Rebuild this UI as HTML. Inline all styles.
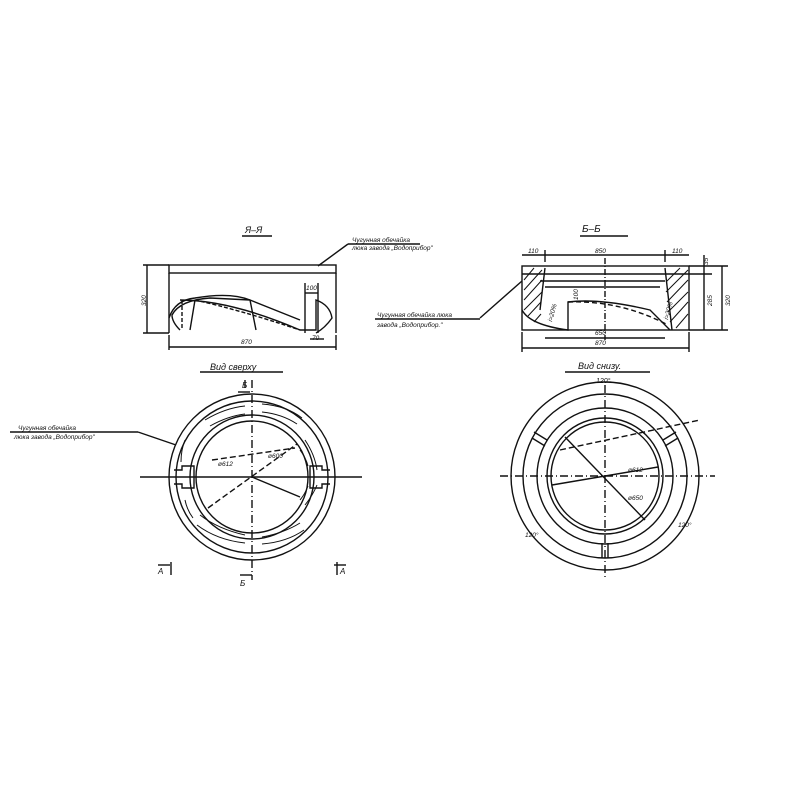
<!DOCTYPE html>
<html><head><meta charset="utf-8"><style>
html,body{margin:0;padding:0;background:#fff}
svg{display:block}
text{font-family:"Liberation Sans",sans-serif;font-style:italic;fill:#111}
</style></head><body>
<svg width="800" height="800" viewBox="0 0 800 800" xmlns="http://www.w3.org/2000/svg">
<g stroke="#111" fill="none" stroke-width="1.4">
<!-- A-A section -->
<line x1="242" y1="236" x2="272" y2="236"/>
<rect x="169" y="265" width="167" height="8"/>
<line x1="169" y1="273" x2="169" y2="333"/>
<line x1="336" y1="273" x2="336" y2="333"/>
<path d="M169 318 Q175 300 195 298 Q230 292 250 300 L256 330"/>
<path d="M180 330 Q172 322 172 315 Q180 300 210 298 L250 300" />
<path d="M180 300 Q230 300 300 330 L316 330 L316 300 Q330 305 332 318 Q325 328 316 333"/>
<path d="M182 300 L182 330 M195 300 Q240 310 300 330" stroke-dasharray="4,2"/>
<path d="M190 330 L195 300 M250 300 L300 320" />
<path d="M305 283 L305 333 M318 283 L318 333"/>
<line x1="147" y1="265" x2="147" y2="333"/>
<line x1="143" y1="265" x2="169" y2="265"/><line x1="143" y1="333" x2="169" y2="333"/>
<line x1="169" y1="347" x2="336" y2="347"/>
<line x1="169" y1="335" x2="169" y2="350"/><line x1="336" y1="335" x2="336" y2="350"/>
<line x1="305" y1="293" x2="318" y2="293"/><line x1="310" y1="339" x2="324" y2="339"/>
<line x1="318" y1="266" x2="348" y2="244"/><line x1="348" y1="244" x2="420" y2="244"/>
<!-- B-B section -->
<line x1="580" y1="236" x2="628" y2="236"/>
<rect x="522" y="266" width="167" height="64"/>
<line x1="522" y1="274" x2="689" y2="274"/>
<line x1="540" y1="281" x2="665" y2="281"/>
<line x1="545" y1="287" x2="660" y2="287"/>
<path d="M522 310 Q530 325 568 330 L568 302 Q600 298 650 310 Q660 320 670 330"/>
<path d="M545 268 L540 310 M665 268 L672 330"/>
<path d="M568 302 Q620 300 668 325" stroke-dasharray="5,3"/>
<line x1="605" y1="258" x2="605" y2="340" stroke-dasharray="6,2,1,2"/>
<line x1="522" y1="255" x2="689" y2="255"/>
<line x1="545" y1="250" x2="545" y2="262"/><line x1="665" y1="250" x2="665" y2="262"/>
<line x1="545" y1="338" x2="665" y2="338"/>
<line x1="522" y1="348" x2="689" y2="348"/>
<line x1="522" y1="332" x2="522" y2="352"/><line x1="689" y1="332" x2="689" y2="352"/>
<line x1="689" y1="266" x2="728" y2="266"/><line x1="689" y1="330" x2="728" y2="330"/>
<line x1="689" y1="274" x2="712" y2="274"/>
<line x1="704" y1="255" x2="704" y2="330"/><line x1="722" y1="266" x2="722" y2="330"/>
<line x1="522" y1="281" x2="480" y2="318"/><line x1="375" y1="319" x2="480" y2="319"/>
<!-- hatch -->
<g stroke-width="1">
<path d="M524 280 L534 268 M524 290 L542 270 M524 300 L542 280 M524 310 L542 292 M528 316 L541 302 M534 322 L541 314 M666 282 L680 268 M666 292 L688 270 M667 302 L688 280 M668 312 L688 292 M670 322 L688 302 M676 328 L688 314"/>
</g>
<!-- Top view -->
<line x1="200" y1="372" x2="283" y2="372"/>
<circle cx="252" cy="477" r="83"/>
<circle cx="252" cy="477" r="76"/>
<circle cx="252" cy="477" r="62"/>
<circle cx="252" cy="477" r="56"/>
<path d="M174 470 h8 v-4 h12 v22 h-12 v-4 h-8 M330 470 h-8 v-4 h-12 v22 h12 v-4 h8"/>
<g stroke-width="1">
<path d="M205 420 q20-12 40-14 M262 404 q25 2 40 14 M305 440 q10 15 12 30 M197 525 q20 15 48 18 M262 544 q25-2 42-14 M305 505 q8-10 12-20 M185 440 q-4 10 -4 22 M185 500 q2 10 8 18" />
<path d="M210 426 q18-10 35-12 M262 412 q20 2 35 12 M200 515 q18 14 45 20 M262 537 q22-4 38-14 M300 450 q6 8 8 16 M300 500 q5 -6 8 -14"/>
</g>
<line x1="140" y1="477" x2="362" y2="477"/>
<line x1="252" y1="380" x2="252" y2="580" stroke-dasharray="8,3,1,3"/>
<line x1="212" y1="460" x2="295" y2="448" stroke-dasharray="6,3"/>
<line x1="208" y1="508" x2="297" y2="444" stroke-dasharray="6,3"/>
<line x1="252" y1="477" x2="300" y2="497"/>
<line x1="245" y1="380" x2="245" y2="388"/><line x1="238" y1="392" x2="250" y2="392"/>
<line x1="240" y1="575" x2="252" y2="575"/>
<line x1="158" y1="565" x2="170" y2="565"/><line x1="334" y1="565" x2="346" y2="565"/>
<line x1="171" y1="562" x2="171" y2="575"/><line x1="337" y1="562" x2="337" y2="575"/>
<line x1="10" y1="432" x2="138" y2="432"/><line x1="138" y1="432" x2="176" y2="445"/>
<!-- Bottom view -->
<line x1="565" y1="372" x2="650" y2="372"/>
<circle cx="605" cy="476" r="94"/>
<circle cx="605" cy="476" r="82"/>
<circle cx="605" cy="476" r="68"/>
<circle cx="605" cy="476" r="58"/>
<circle cx="605" cy="476" r="54"/>
<path d="M532 438 L545 446 M534 432 L547 440 M678 438 L665 446 M676 432 L663 440 M602 543 L602 558 M608 543 L608 558"/>
<line x1="500" y1="476" x2="715" y2="476" stroke-dasharray="8,3,1,3"/>
<line x1="605" y1="385" x2="605" y2="580" stroke-dasharray="8,3,1,3"/>
<line x1="565" y1="437" x2="645" y2="520"/>
<line x1="552" y1="485" x2="658" y2="467"/>
<line x1="560" y1="450" x2="700" y2="420" stroke-dasharray="6,3"/>
</g>
<g font-size="9">
<text x="245" y="233">Я–Я</text>
<text x="582" y="232" font-size="10">Б–Б</text>
<text x="210" y="370">Вид  сверху</text>
<text x="578" y="369">Вид  снизу.</text>
<text x="596" y="383" font-size="7">120°</text>
</g>
<g font-size="6.5">
<text x="352" y="242">Чугунная обечайка</text>
<text x="352" y="250">люка завода „Водоприбор"</text>
<text x="377" y="317">Чугунная обечайка люка</text>
<text x="377" y="327">завода „Водоприбор."</text>
<text x="18" y="430">Чугунная обечайка</text>
<text x="14" y="439">люка завода „Водоприбор"</text>
<text x="241" y="344">870</text>
<text x="306" y="290">100</text>
<text x="312" y="340">70</text>
<text x="595" y="345">870</text>
<text x="595" y="335">650</text>
<text x="595" y="253">850</text>
<text x="528" y="253">110</text>
<text x="672" y="253">110</text>
<text x="242" y="388" font-size="8">Б</text>
<text x="240" y="586" font-size="8">Б</text>
<text x="158" y="574" font-size="8">А</text>
<text x="340" y="574" font-size="8">А</text>
<text x="218" y="466">ø612</text>
<text x="268" y="458">ø600</text>
<text x="628" y="472">ø612</text>
<text x="628" y="500">ø650</text>
<text x="525" y="537">120°</text>
<text x="678" y="527">120°</text>
<text transform="translate(146 306) rotate(-90)">320</text>
<text transform="translate(712 306) rotate(-90)">285</text>
<text transform="translate(730 306) rotate(-90)">320</text>
<text transform="translate(708 265) rotate(-90)">35</text>
<text transform="translate(578 300) rotate(-90)">100</text>
<text transform="translate(552 322) rotate(-75)">i=20%</text>
<text transform="translate(668 320) rotate(-75)">i=20%</text>
</g>
</svg>
</body></html>
